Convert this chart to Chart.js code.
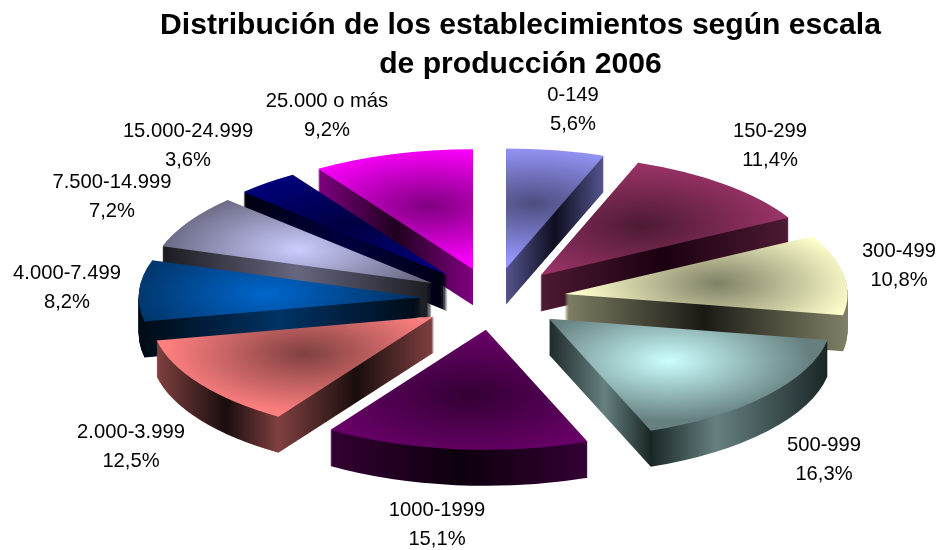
<!DOCTYPE html>
<html><head><meta charset="utf-8">
<style>html,body{margin:0;padding:0;background:#fff}canvas{display:block}</style>
<script src="https://cdn.jsdelivr.net/npm/chart.js@4"></script>
</head><body><canvas id="c" width="939" height="550"></canvas>
<script>
const titleLines = ["Distribución de los establecimientos según escala", "de producción 2006"];
const categories = ["0-149","150-299","300-499","500-999","1000-1999","2.000-3.999","4.000-7.499","7.500-14.999","15.000-24.999","25.000 o más"];
const shares = [5.6,11.4,10.8,16.3,15.1,12.5,8.2,7.2,3.6,9.2];

// styling
const faceEdge   = ["#9999ff","#993366","#ffffcc","#668080","#660066","#ff8080","#003366","#666680","#000080","#ff00ff"];
const faceCentre = ["#4d4d80","#4d1a33","#808066","#ccffff","#330033","#804040","#0066cc","#ccccff","#000040","#800080"];
const wallStops = [
  [[0,"#55558f"],[.5,"#0d0d20"],[1,"#55558f"]],
  [[0,"#4d1a33"],[.49,"#1a0010"],[1,"#4d1a33"]],
  [[0,"#808066"],[.49,"#1a1a14"],[1,"#808066"]],
  [[0,"#1f2a2a"],[.2,"#668080"],[.365,"#1a2626"],[.6,"#668080"],[1,"#1a2626"]],
  [[0,"#330033"],[.5,"#0d000d"],[1,"#330033"]],
  [[0,"#804040"],[.25,"#1a0d0d"],[.44,"#804040"],[.72,"#1a0d0d"],[1,"#804040"]],
  [[0,"#000a14"],[.5,"#003366"],[1,"#000a14"]],
  [[0,"#1a1a20"],[.5,"#666680"],[1,"#1a1a20"]],
  [[0,"#000010"],[.5,"#000040"],[1,"#000010"]],
  [[0,"#800080"],[.5,"#200020"],[1,"#800080"]]
];
const drawOrder = [9,8,7,6,0,1,2,3,5,4];
const labelAnchors = [[573,95],[770,131],[899,251],[824,445],[437,510],[131,432],[67,273],[112,182],[188,131],[327,101]];

const view = {cx:493.5, cy:299, rx:283, ry:120, explodeX:72, explodeY:31, depth:36};

const pie3d = {
  id:'pie3d',
  beforeDatasetsDraw(chart){
    const ctx = chart.ctx, arcs = chart.getDatasetMeta(0).data;
    drawOrder.forEach(i=>{
      const arc = arcs[i], R = arc.outerRadius, base = arc.options;
      const mid = (arc.startAngle+arc.endAngle)/2;
      const sx = view.rx/R, sy = view.ry/R;
      const sdx = Math.cos(mid)*view.explodeX, sdy = Math.sin(mid)*view.explodeY;
      const xs = [0, Math.cos(arc.startAngle)*R, Math.cos(arc.endAngle)*R];
      for(let k=-2;k<=2;k++){
        const a = k*Math.PI;
        if(a>arc.startAngle && a<arc.endAngle) xs.push(Math.cos(a)*R);
      }
      const paint = (fill,off)=>{
        ctx.save();
        ctx.translate(view.cx+sdx, view.cy+sdy+off);
        ctx.scale(sx,sy);
        ctx.translate(-arc.x, -arc.y);
        arc.options = Object.assign({}, base, {backgroundColor:fill, borderWidth:0, offset:0});
        arc.draw(ctx);
        arc.options = base;
        ctx.restore();
      };
      const wall = ctx.createLinearGradient(arc.x+Math.min(...xs),0,arc.x+Math.max(...xs),0);
      wallStops[i].forEach(s=>wall.addColorStop(s[0],s[1]));
      for(let d=view.depth;d>=1;d--) paint(wall,d);
      const gx = arc.x+Math.cos(mid)*R*.55, gy = arc.y+Math.sin(mid)*R*.55;
      const face = ctx.createRadialGradient(gx,gy,0,gx,gy,R*.5);
      face.addColorStop(0,faceCentre[i]);
      face.addColorStop(1,faceEdge[i]);
      paint(face,0);
    });
    return false;
  },
  afterDraw(chart){
    const ctx = chart.ctx;
    ctx.save();
    ctx.font = '20.2px "Liberation Sans"';
    ctx.fillStyle = '#000';
    ctx.textAlign = 'center';
    ctx.textBaseline = 'middle';
    categories.forEach((c,i)=>{
      const [x,y] = labelAnchors[i];
      ctx.fillText(c,x,y);
      ctx.fillText(shares[i].toFixed(1).replace('.',',')+'%',x,y+29);
    });
    ctx.restore();
  }
};

new Chart(document.getElementById('c'),{
  type:'pie',
  data:{labels:categories,datasets:[{data:shares,backgroundColor:faceEdge,borderWidth:0}]},
  options:{
    responsive:false,animation:false,
    layout:{padding:{left:102,top:6}},
    plugins:{
      legend:{display:false},tooltip:{enabled:false},
      title:{display:true,text:titleLines,color:'#000',padding:0,
        font:{family:'"Liberation Sans"',size:30.1,weight:'bold',lineHeight:1.3}}
    }
  },
  plugins:[pie3d]
});
</script></body></html>
